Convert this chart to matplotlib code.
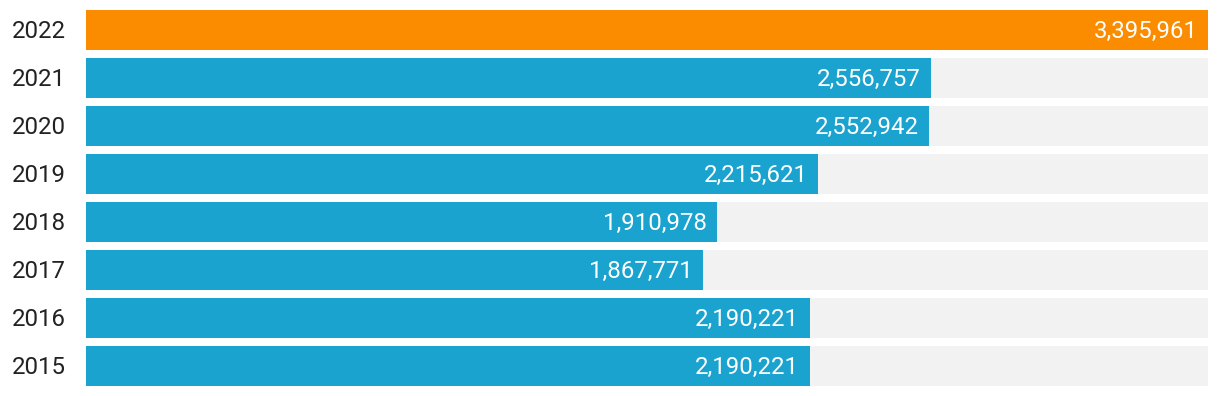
import matplotlib.pyplot as plt

years = ['2015', '2016', '2017', '2018', '2019', '2020', '2021', '2022']
values = [2190221, 2190221, 1867771, 1910978, 2215621, 2552942, 2556757, 3395961]
colors = ['#1aa3cf'] * 7 + ['#fb8c00']

plt.rcParams['font.family'] = ['Roboto', 'DejaVu Sans']

fig = plt.figure(figsize=(12.2, 3.96), dpi=100)
W, H = 1220, 396
ax = fig.add_axes([86 / W, (H - 386) / H, (1208 - 86) / W, 376 / H])

vmax = max(values)
h = 40 / 48
pos = list(range(len(years)))
ax.barh(pos, [vmax] * len(years), height=h, color='#f2f2f2')
ax.barh(pos, values, height=h, color=colors)

# nudge text down a touch to sit like the original
dy = -0.035
for y, v in zip(pos, values):
    ax.text(v - vmax * 0.0092, y + dy, f'{v:,}', ha='right', va='center',
            color='white', fontsize=17.3)
    ax.text(-74 / 1122 * vmax, y + dy, years[y], ha='left', va='center',
            color='#222222', fontsize=17.3)

ax.set_xlim(0, vmax)
ax.set_ylim(-h / 2, len(years) - 1 + h / 2)
ax.axis('off')

fig.savefig('out.png', dpi=100)
